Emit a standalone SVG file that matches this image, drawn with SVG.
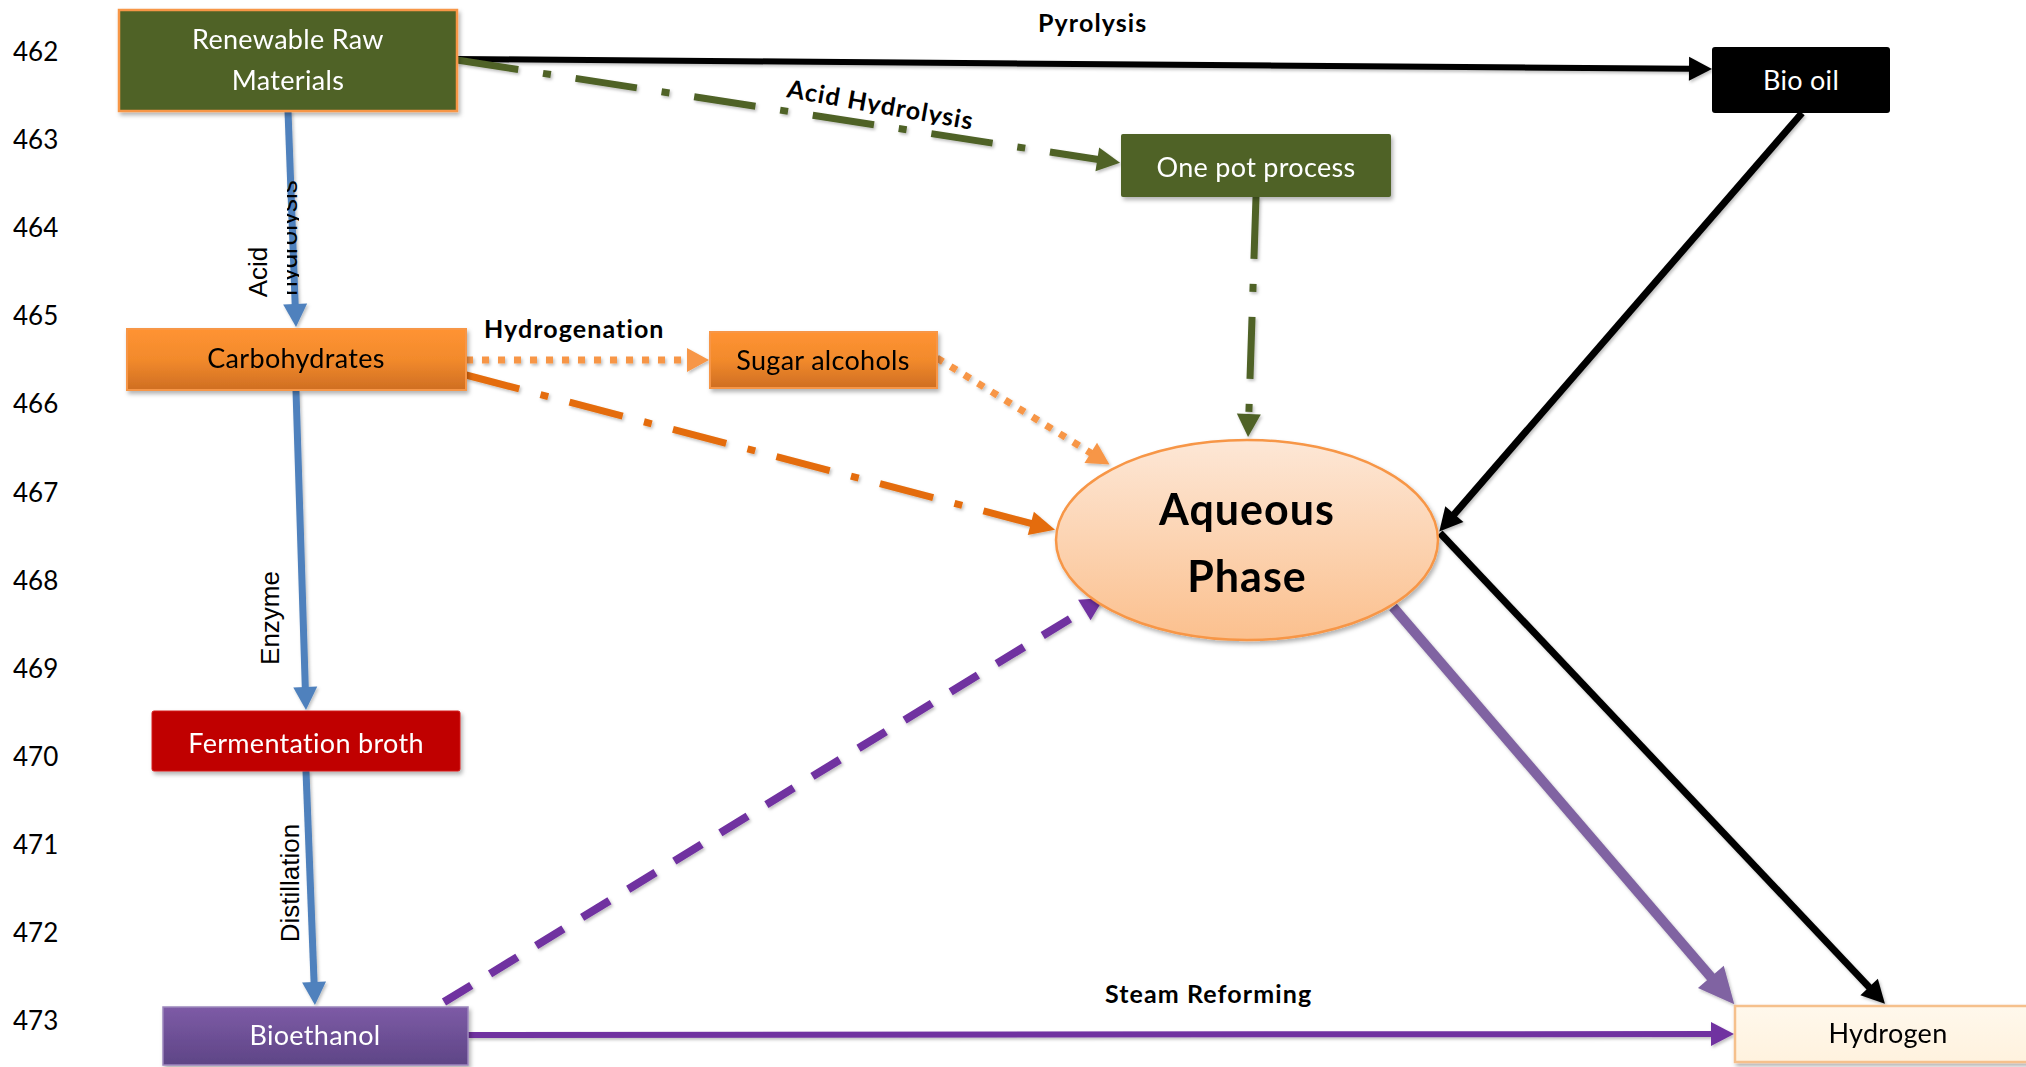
<svg xmlns="http://www.w3.org/2000/svg" width="2026" height="1067" viewBox="0 0 2026 1067">
  <style>
    .ln { font-family: Lato, "Liberation Sans", sans-serif; font-size: 26px; fill: #000; }
    .node-txt { font-family: Lato, "Liberation Sans", sans-serif; font-size: 27px; text-anchor: middle; letter-spacing: 0.3px; }
    .w { fill: #fff; }
    .k { fill: #000; }
    .lbl { font-family: Lato, "Liberation Sans", sans-serif; font-weight: bold; font-size: 25px; letter-spacing: 1.1px; fill: #000; }
    .vlbl { font-family: "Liberation Sans", Arial, sans-serif; font-size: 26px; fill: #000; text-anchor: middle; }
    .big { font-family: Lato, "Liberation Sans", sans-serif; font-weight: bold; font-size: 43px; letter-spacing: 1px; text-anchor: middle; fill: #000; }
    .conn { fill: none; stroke-linecap: butt; }
  </style>
  <defs>
    <filter id="shadow" x="-10%" y="-10%" width="130%" height="140%">
      <feDropShadow dx="2" dy="3" stdDeviation="2" flood-color="#000" flood-opacity="0.3"/>
    </filter>
    <filter id="lshadow" x="-10%" y="-10%" width="130%" height="130%">
      <feDropShadow dx="1.5" dy="2" stdDeviation="1.5" flood-color="#000" flood-opacity="0.25"/>
    </filter>
    <linearGradient id="gOrange" x1="0" y1="0" x2="0" y2="1">
      <stop offset="0" stop-color="#FF9332"/>
      <stop offset="0.5" stop-color="#F28A2C"/>
      <stop offset="1" stop-color="#CF6E22"/>
    </linearGradient>
    <linearGradient id="gPurple" x1="0" y1="0" x2="0" y2="1">
      <stop offset="0" stop-color="#7D5BA6"/>
      <stop offset="1" stop-color="#5E4586"/>
    </linearGradient>
    <linearGradient id="gAqueous" x1="0" y1="0" x2="0" y2="1">
      <stop offset="0" stop-color="#FDE7D6"/>
      <stop offset="1" stop-color="#FBC08E"/>
    </linearGradient>
    <linearGradient id="gHydrogen" x1="0" y1="0" x2="0" y2="1">
      <stop offset="0" stop-color="#FFF8EC"/>
      <stop offset="1" stop-color="#FFF2DE"/>
    </linearGradient>
    <marker id="aBlue" markerUnits="userSpaceOnUse" markerWidth="30" markerHeight="30" refX="1" refY="0" orient="auto" overflow="visible">
      <path d="M0,-12 L23,0 L0,12 z" fill="#4F81BD"/>
    </marker>
    <marker id="aBlack" markerUnits="userSpaceOnUse" markerWidth="30" markerHeight="30" refX="1" refY="0" orient="auto" overflow="visible">
      <path d="M0,-12 L23,0 L0,12 z" fill="#000"/>
    </marker>
    <marker id="aGreen" markerUnits="userSpaceOnUse" markerWidth="30" markerHeight="30" refX="1" refY="0" orient="auto" overflow="visible">
      <path d="M0,-12 L23,0 L0,12 z" fill="#4F6228"/>
    </marker>
    <marker id="aLightOrange" markerUnits="userSpaceOnUse" markerWidth="30" markerHeight="30" refX="1" refY="0" orient="auto" overflow="visible">
      <path d="M0,-12 L22,0 L0,12 z" fill="#F79646"/>
    </marker>
    <marker id="aOrange" markerUnits="userSpaceOnUse" markerWidth="30" markerHeight="30" refX="1" refY="0" orient="auto" overflow="visible">
      <path d="M0,-12 L25,0 L0,12 z" fill="#E46C0A"/>
    </marker>
    <marker id="aPurple" markerUnits="userSpaceOnUse" markerWidth="30" markerHeight="30" refX="1" refY="0" orient="auto" overflow="visible">
      <path d="M0,-12 L23,0 L0,12 z" fill="#7030A0"/>
    </marker>
    <marker id="aLavender" markerUnits="userSpaceOnUse" markerWidth="40" markerHeight="40" refX="1" refY="0" orient="auto" overflow="visible">
      <path d="M0,-17 L36,0 L0,17 z" fill="#8064A2"/>
    </marker>
    <clipPath id="clipHydro">
      <rect x="287" y="150" width="12" height="160"/>
    </clipPath>
    <clipPath id="clipAcidLbl">
      <rect x="-5" y="-30" width="240" height="32"/>
    </clipPath>
  </defs>

  <rect x="0" y="0" width="2026" height="1067" fill="#fff"/>

  <!-- line numbers down the left margin -->
  <g id="line-numbers" class="ln">
    <text x="13" y="61">462</text>
    <text x="13" y="149">463</text>
    <text x="13" y="237">464</text>
    <text x="13" y="325">465</text>
    <text x="13" y="413">466</text>
    <text x="13" y="502">467</text>
    <text x="13" y="590">468</text>
    <text x="13" y="678">469</text>
    <text x="13" y="766">470</text>
    <text x="13" y="854">471</text>
    <text x="13" y="942">472</text>
    <text x="13" y="1030">473</text>
  </g>

  <!-- connectors -->
  <g id="connectors" class="conn" filter="url(#lshadow)">
    <!-- blue process chain -->
    <line x1="288" y1="111" x2="295.2" y2="305" stroke="#4F81BD" stroke-width="7" marker-end="url(#aBlue)"/>
    <line x1="296" y1="391" x2="305.3" y2="688" stroke="#4F81BD" stroke-width="7" marker-end="url(#aBlue)"/>
    <line x1="306" y1="771" x2="314.1" y2="983" stroke="#4F81BD" stroke-width="7" marker-end="url(#aBlue)"/>
    <!-- pyrolysis -->
    <line x1="457" y1="59" x2="1690" y2="68.8" stroke="#000" stroke-width="6" marker-end="url(#aBlack)"/>
    <!-- acid hydrolysis to one pot -->
    <line x1="457" y1="60" x2="1098.3" y2="159.5" stroke="#4F6228" stroke-width="7" stroke-dasharray="62 25 8 25" marker-end="url(#aGreen)"/>
    <!-- one pot to aqueous phase -->
    <line x1="1256" y1="197" x2="1248.8" y2="415" stroke="#4F6228" stroke-width="7" stroke-dasharray="62 25 8 25" marker-end="url(#aGreen)"/>
    <!-- hydrogenation -->
    <line x1="466" y1="360" x2="688" y2="360" stroke="#F79646" stroke-width="7" stroke-dasharray="7 9" marker-end="url(#aLightOrange)"/>
    <!-- sugar alcohols to aqueous phase -->
    <line x1="937" y1="358" x2="1091.6" y2="453.4" stroke="#F79646" stroke-width="7" stroke-dasharray="7 9" marker-end="url(#aLightOrange)"/>
    <!-- carbohydrates to aqueous phase -->
    <line x1="466" y1="375" x2="1031.8" y2="523.6" stroke="#E46C0A" stroke-width="7" stroke-dasharray="55 22 8 22" marker-end="url(#aOrange)"/>
    <!-- bio oil to aqueous phase -->
    <line x1="1802" y1="113" x2="1453.7" y2="514.9" stroke="#000" stroke-width="7" marker-end="url(#aBlack)"/>
    <!-- aqueous phase (black path) to hydrogen -->
    <line x1="1440" y1="533" x2="1869.8" y2="987.8" stroke="#000" stroke-width="7" marker-end="url(#aBlack)"/>
    <!-- aqueous phase reforming to hydrogen -->
    <line x1="1393" y1="607" x2="1711.5" y2="977.7" stroke="#8064A2" stroke-width="10" marker-end="url(#aLavender)"/>
    <!-- bioethanol to aqueous phase -->
    <line x1="444" y1="1002" x2="1085.2" y2="609.5" stroke="#7030A0" stroke-width="8" stroke-dasharray="32 22" marker-end="url(#aPurple)"/>
    <!-- steam reforming -->
    <line x1="468" y1="1035" x2="1712" y2="1034" stroke="#7030A0" stroke-width="6" marker-end="url(#aPurple)"/>
  </g>

  <!-- connector labels -->
  <g id="connector-labels">
    <text class="lbl" x="1038" y="32" font-size="24">Pyrolysis</text>
    <g transform="translate(786,97) rotate(10)" clip-path="url(#clipAcidLbl)">
      <text class="lbl" x="0" y="0" font-size="24">Acid Hydrolysis</text>
    </g>
    <text class="lbl" x="484" y="338">Hydrogenation</text>
    <text class="lbl" x="1105" y="1003" letter-spacing="1.4">Steam Reforming</text>
    <text class="vlbl" transform="translate(267,272) rotate(-90)">Acid</text>
    <!-- second line of the label, cut off by its narrow text box -->
    <g clip-path="url(#clipHydro)">
      <text class="vlbl" font-size="24" transform="translate(297,238) rotate(-90)">hydrolysis</text>
    </g>
    <text class="vlbl" font-size="25" transform="translate(279,618) rotate(-90)">Enzyme</text>
    <text class="vlbl" transform="translate(299,883) rotate(-90)">Distillation</text>
  </g>

  <!-- nodes -->
  <g id="renewable-raw-materials" filter="url(#shadow)">
    <rect x="119" y="10" width="338" height="101" fill="#4F6228" stroke="#F79646" stroke-width="2.5"/>
    <text class="node-txt w" x="288" y="49">Renewable Raw</text>
    <text class="node-txt w" x="288" y="90">Materials</text>
  </g>

  <g id="carbohydrates" filter="url(#shadow)">
    <rect x="127" y="329" width="339" height="61" fill="url(#gOrange)" stroke="#F79646" stroke-width="2"/>
    <text class="node-txt k" x="296" y="368">Carbohydrates</text>
  </g>

  <g id="sugar-alcohols" filter="url(#shadow)">
    <rect x="710" y="332" width="227" height="56" fill="url(#gOrange)" stroke="#F79646" stroke-width="2"/>
    <text class="node-txt k" x="823" y="370">Sugar alcohols</text>
  </g>

  <g id="fermentation-broth" filter="url(#shadow)">
    <rect x="152" y="711" width="308" height="60" rx="2" fill="#C00000" stroke="#D42020" stroke-width="1"/>
    <text class="node-txt w" x="306" y="753">Fermentation broth</text>
  </g>

  <g id="bioethanol" filter="url(#shadow)">
    <rect x="163" y="1007" width="305" height="58" fill="url(#gPurple)" stroke="#9C86BC" stroke-width="1.5"/>
    <text class="node-txt w" x="315" y="1045">Bioethanol</text>
  </g>

  <g id="one-pot-process" filter="url(#shadow)">
    <rect x="1121" y="134" width="270" height="63" rx="2" fill="#4F6228"/>
    <text class="node-txt w" x="1256" y="177">One pot process</text>
  </g>

  <g id="bio-oil">
    <rect x="1712" y="47" width="178" height="66" rx="3" fill="#000"/>
    <text class="node-txt w" x="1801" y="90">Bio oil</text>
  </g>

  <g id="aqueous-phase" filter="url(#shadow)">
    <ellipse cx="1247" cy="540" rx="191" ry="100" fill="url(#gAqueous)" stroke="#F79646" stroke-width="2.5"/>
    <text class="big" x="1247" y="525">Aqueous</text>
    <text class="big" x="1247" y="592">Phase</text>
  </g>

  <g id="hydrogen" filter="url(#shadow)">
    <rect x="1735" y="1006" width="310" height="56" fill="url(#gHydrogen)" stroke="#F5C08C" stroke-width="2.5"/>
    <text class="node-txt k" x="1888" y="1043">Hydrogen</text>
  </g>
</svg>
